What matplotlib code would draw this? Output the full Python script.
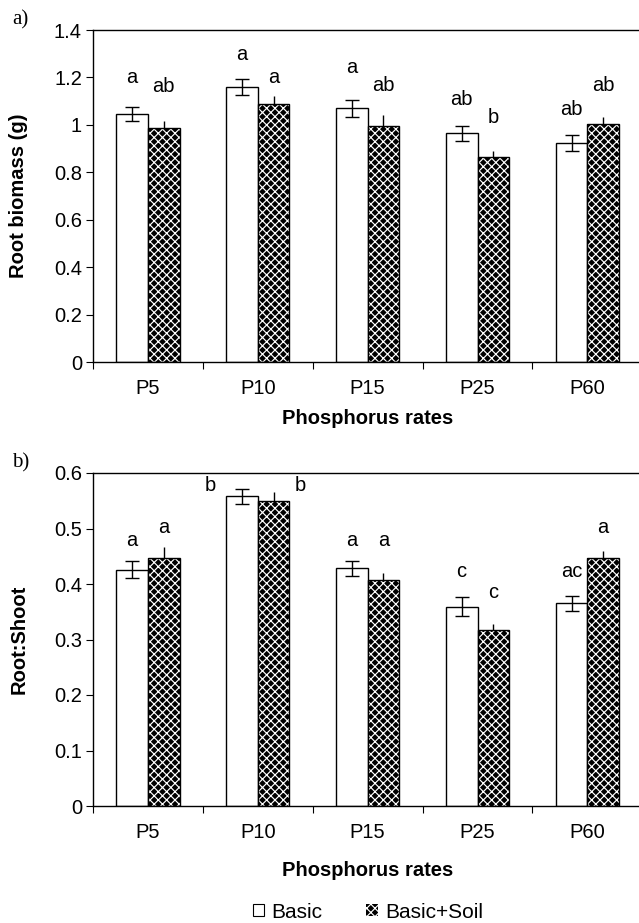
import matplotlib
matplotlib.use("Agg")
import matplotlib.pyplot as plt
import numpy as np
from matplotlib.patches import Patch

plt.rcParams['font.family'] = ['Liberation Sans', 'DejaVu Sans']
plt.rcParams['hatch.linewidth'] = 0.85

categories = ["P5", "P10", "P15", "P25", "P60"]

# panel a: root biomass (g)
biomass_basic = [1.045, 1.160, 1.070, 0.965, 0.925]
biomass_basic_err = [0.030, 0.032, 0.036, 0.032, 0.034]
biomass_soil = [0.988, 1.090, 0.996, 0.865, 1.003]
biomass_soil_err = [0.030, 0.030, 0.045, 0.025, 0.030]
biomass_letters_basic = ["a", "a", "a", "ab", "ab"]
biomass_letters_soil = ["ab", "a", "ab", "b", "ab"]
biomass_letter_y_basic = [1.198, 1.295, 1.24, 1.105, 1.063]
biomass_letter_y_soil = [1.161, 1.198, 1.164, 1.029, 1.164]

# panel b: root:shoot
ratio_basic = [0.426, 0.558, 0.428, 0.359, 0.365]
ratio_basic_err = [0.015, 0.013, 0.014, 0.017, 0.014]
ratio_soil = [0.447, 0.550, 0.407, 0.318, 0.446]
ratio_soil_err = [0.020, 0.015, 0.013, 0.010, 0.013]
ratio_letters_basic = ["a", "b", "a", "c", "ac"]
ratio_letters_soil = ["a", "b", "a", "c", "a"]
ratio_letter_y_basic = [0.479, 0.578, 0.479, 0.422, 0.422]
ratio_letter_y_soil = [0.501, 0.578, 0.479, 0.384, 0.501]

W, H = 639, 923
fig = plt.figure(figsize=(W / 100, H / 100), dpi=100)

def ax_rect(left, top, right, bottom):
    return [left / W, 1 - bottom / H, (right - left) / W, (bottom - top) / H]

bw = 0.288
FS = 14.5
XMAX = 4.47

def panel(ax, basic, berr, soil, serr, lb, ls, lyb, lys, ymax, ystep, ylabel, side_shift,
          xlab_y, ylab_x):
    x = np.arange(len(categories))
    ax.bar(x - bw / 2, basic, bw, facecolor='white', edgecolor='black', linewidth=1.0, zorder=2)
    ax.bar(x + bw / 2, soil, bw, facecolor='black', edgecolor='white', hatch='xxxx', linewidth=0, zorder=2)
    ax.bar(x + bw / 2, soil, bw, fill=False, edgecolor='black', linewidth=1.0, zorder=3)
    ax.errorbar(x - bw / 2, basic, yerr=berr, fmt='none', ecolor='black', elinewidth=1.0,
                capsize=5, capthick=1.0, zorder=4)
    ax.errorbar(x + bw / 2, soil, yerr=[np.zeros(len(soil)), serr], fmt='none', ecolor='black',
                elinewidth=1.0, capsize=0, zorder=4)
    for i in range(len(categories)):
        xb = x[i] - bw / 2
        xs = x[i] + bw / 2
        if i in side_shift:
            xb -= 0.29
            xs += 0.24
        ax.text(xb, lyb[i], lb[i], ha='center', va='center', fontsize=FS)
        ax.text(xs, lys[i], ls[i], ha='center', va='center', fontsize=FS)
    ax.set_xlim(-0.5, XMAX)
    ax.set_ylim(0, ymax)
    ax.set_yticks(np.arange(0, ymax + ystep / 2, ystep))
    ax.set_yticklabels([f"{v:g}" for v in np.arange(0, ymax + ystep / 2, ystep)], fontsize=FS)
    ax.set_xticks(x)
    ax.set_xticklabels(categories, fontsize=FS)
    ax.set_xticks(np.arange(-0.5, 4.0, 1.0), minor=True)
    ax.tick_params(axis='x', which='major', length=0, pad=12)
    ax.tick_params(axis='x', which='minor', length=5, width=0.8)
    ax.tick_params(axis='y', length=5, width=0.8, pad=3)
    ax.spines['right'].set_visible(False)
    for s in ['top', 'left', 'bottom']:
        ax.spines[s].set_linewidth(1.0)
    ax.set_ylabel(ylabel, fontsize=FS, fontweight='bold', va='center')
    ax.set_xlabel("Phosphorus rates", fontsize=FS, fontweight='bold', va='center')
    ax.xaxis.set_label_coords(0.5, xlab_y)
    ax.yaxis.set_label_coords(ylab_x, 0.5)

ax1 = fig.add_axes(ax_rect(93, 30, 639, 362))
panel(ax1, biomass_basic, biomass_basic_err, biomass_soil, biomass_soil_err,
      biomass_letters_basic, biomass_letters_soil, biomass_letter_y_basic, biomass_letter_y_soil,
      1.4, 0.2, "Root biomass (g)", [], (362 - 419) / 332, (19 - 93) / 546)
ax1.xaxis.label.set_x((360 - 93) / 546)

ax2 = fig.add_axes(ax_rect(93, 473, 639, 806))
panel(ax2, ratio_basic, ratio_basic_err, ratio_soil, ratio_soil_err,
      ratio_letters_basic, ratio_letters_soil, ratio_letter_y_basic, ratio_letter_y_soil,
      0.6, 0.1, "Root:Shoot", [1], (806 - 870) / 333, (19 - 93) / 546)
ax2.xaxis.set_label_coords((368 - 93) / 546, (806 - 870) / 333)
ax1.xaxis.set_label_coords((368 - 93) / 546, (362 - 419) / 332)

fig.text(12 / W, 1 - 20 / H, "a)", fontsize=15, family='Liberation Serif', va='center', ha='left')
fig.text(12 / W, 1 - 463 / H, "b)", fontsize=15, family='Liberation Serif', va='center', ha='left')

handles = [Patch(facecolor='white', edgecolor='black', linewidth=0.8, label='Basic'),
           Patch(facecolor='black', edgecolor='white', hatch='xxxx', linewidth=0.0, label='Basic+Soil')]
fig.legend(handles=handles, loc='center', bbox_to_anchor=(368 / W, 1 - 912 / H), ncol=2,
           frameon=False, fontsize=15, handlelength=0.55, handleheight=0.55, handletextpad=0.35,
           columnspacing=2.1, borderpad=0.1)

fig.savefig("out.png", dpi=100)
